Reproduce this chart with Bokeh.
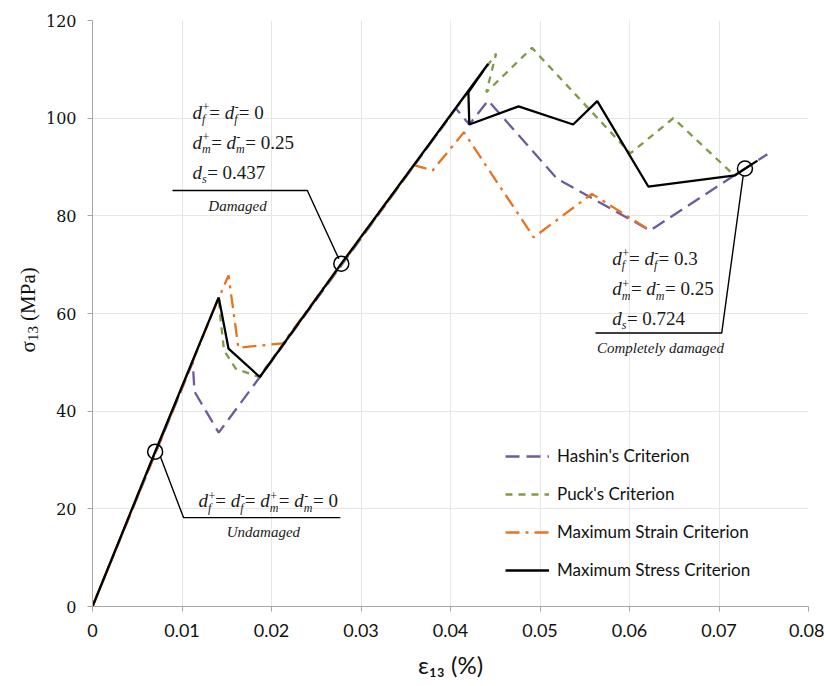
import math
from bokeh.plotting import figure
from bokeh.layouts import row
from bokeh.models import (Label, Legend, LegendItem, FixedTicker,
                          CustomJSTickFormatter, Range1d)
from bokeh.core.properties import value
from bokeh.embed import file_html
from bokeh.resources import INLINE

# ---------------- data (strain in %, stress in MPa) ----------------
hashin_x = [0, 0.0112, 0.0114, 0.0141, 0.0187, 0.0406, 0.0421, 0.0442, 0.0519, 0.0623, 0.0729, 0.0754]
hashin_y = [0, 50.0, 44.0, 35.6, 47.0, 102.0, 98.7, 103.6, 87.6, 77.0, 89.7, 92.6]

puck_x = [0, 0.0141, 0.0143, 0.0147, 0.0160, 0.0186, 0.0451, 0.0440, 0.0491, 0.0601, 0.0649, 0.0717, 0.0728]
puck_y = [0, 63.3, 58.9, 52.4, 48.7, 47.0, 113.2, 105.3, 114.4, 92.8, 100.0, 88.3, 89.5]

strain_x = [0, 0.0135, 0.0152, 0.0163, 0.0213, 0.0359, 0.0380, 0.0415, 0.0493, 0.0558, 0.0623]
strain_y = [0, 60.5, 67.8, 53.0, 53.9, 90.4, 89.3, 97.1, 75.6, 84.5, 77.0]

stress_x = [0, 0.0070, 0.0141, 0.0152, 0.0187, 0.0278, 0.0442, 0.0420, 0.0421, 0.0476, 0.0537, 0.0564, 0.0621, 0.0718, 0.0743]
stress_y = [0, 31.7, 63.3, 52.8, 47.0, 70.2, 111.1, 105.3, 98.7, 102.4, 98.7, 103.5, 86.0, 88.3, 91.3]

state_x = [0.0070, 0.0278, 0.0729]
state_y = [31.7, 70.2, 89.7]

series_names = ["Hashin's Criterion", "Puck's Criterion",
                "Maximum Strain Criterion", "Maximum Stress Criterion"]

x_ticks = [0, 0.01, 0.02, 0.03, 0.04, 0.05, 0.06, 0.07, 0.08]
y_ticks = [0, 20, 40, 60, 80, 100, 120]

H = 684
TOP, BOTTOM = 20, 78
FRAME_H = H - TOP - BOTTOM
LABEL_W = 42

# ---------------- y-axis title panel (pixel coordinates) ----------------
q = figure(width=LABEL_W, height=H, output_backend="svg", toolbar_location=None,
           x_range=Range1d(0, LABEL_W), y_range=Range1d(0, FRAME_H),
           min_border_left=0, min_border_right=0, min_border_top=TOP,
           min_border_bottom=BOTTOM)
q.axis.visible = False
q.grid.visible = False
q.outline_line_color = None

YT_FS = 21
mid_x = 27
start_y = 606 - 352          # bottom end of the title (page y 352), in panel px
w_sigma = 0.55 * YT_FS
w_sub = 15
w_space = 5
parts = [
    ("σ", start_y, mid_x, f"{YT_FS}px"),
    ("13", start_y + w_sigma, mid_x + 5, "15px"),
    ("(MPa)", start_y + w_sigma + w_sub + w_space, mid_x, f"{YT_FS}px"),
]
for txt, yy, xx, fs in parts:
    q.text(x=[xx], y=[yy], text=[txt], angle=math.pi / 2,
           text_font=value("Liberation Serif"), text_font_size=fs,
           text_color="#111111", text_align="left", text_baseline="middle")

# ---------------- main figure ----------------
p = figure(width=824 - LABEL_W, height=H, output_backend="svg", toolbar_location=None,
           x_range=Range1d(0, 0.08), y_range=Range1d(0, 120),
           min_border_left=92 - LABEL_W, min_border_right=16, min_border_top=TOP,
           min_border_bottom=BOTTOM)
p.outline_line_color = None
p.background_fill_color = "white"

p.xgrid.ticker = FixedTicker(ticks=x_ticks)
p.ygrid.ticker = FixedTicker(ticks=y_ticks)
p.xgrid.grid_line_color = "#e6e6e6"
p.ygrid.grid_line_color = "#e6e6e6"

xa = p.xaxis[0]
ya = p.yaxis[0]
xa.ticker = FixedTicker(ticks=x_ticks)
ya.ticker = FixedTicker(ticks=y_ticks)
xa.formatter = CustomJSTickFormatter(code="return String(Math.round(tick * 100) / 100);")
for ax in (xa, ya):
    ax.axis_line_color = "#a6a6a6"
    ax.major_tick_line_color = "#a6a6a6"
    ax.major_tick_out = 5
    ax.major_tick_in = 0
    ax.minor_tick_line_color = None
    ax.major_label_text_color = "#111111"
    ax.axis_label_text_color = "#111111"
    ax.axis_label_text_font_style = "normal"

xa.major_label_text_font = "Lato"
xa.major_label_text_font_size = "18px"
xa.major_label_standoff = 12
xa.axis_label = "ε₁₃ (%)"
xa.axis_label_text_font = "Lato"
xa.axis_label_text_font_size = "24px"
xa.axis_label_standoff = 10

ya.major_label_text_font = "DejaVu Serif"
ya.major_label_text_font_size = "16px"
ya.major_label_standoff = 11

# ---------------- series ----------------
r_h = p.line(hashin_x, hashin_y, line_color="#6f5b9c", line_width=2.3, line_dash="14 7")
r_p = p.line(puck_x, puck_y, line_color="#7f9b47", line_width=2.3, line_dash="7 6")
r_s = p.line(strain_x, strain_y, line_color="#e8731f", line_width=2.3, line_dash="14 6 3 6")
r_m = p.line(stress_x, stress_y, line_color="#000000", line_width=2.3)

p.scatter(state_x, state_y, marker="circle", size=15, fill_alpha=0,
          line_color="#000000", line_width=1.5)

# ---------------- leader lines ----------------
p.line([0.00894, 0.0240, 0.02752], [85.2, 85.2, 71.2], line_color="black", line_width=1.4)
p.line([0.0076, 0.01017, 0.0277], [30.6, 18.2, 18.2], line_color="black", line_width=1.4)
p.line([0.0727, 0.0703, 0.0562], [88.2, 56.0, 56.0], line_color="black", line_width=1.4)

# ---------------- rich annotation text ----------------
FONT = "Liberation Serif"
W_N = {'0': .5, '1': .5, '2': .5, '3': .5, '4': .5, '5': .5, '6': .5, '7': .5,
       '8': .5, '9': .5, '.': .25, '=': .564, ' ': .25, '+': .564, '-': .333}
W_I = {'d': .5, 'f': .278, 'm': .722, 's': .389}


def tw(s, table, size):
    return sum(table.get(c, .5) for c in s) * size


def lab(x, y, xo, yo, text, size, style="normal"):
    p.add_layout(Label(x=x, y=y, x_offset=xo, y_offset=yo, text=text,
                       text_font=FONT, text_font_size=f"{size}px",
                       text_font_style=style, text_color="#1a1a1a",
                       text_baseline="middle", text_align="left"))


def rich(x, y, items, size=19):
    small = 12
    off = 0.0
    for it in items:
        if it[0] == "t":
            lab(x, y, off, 0, it[1], size)
            off += tw(it[1], W_N, size)
        else:
            _, sub, sup = it
            lab(x, y, off, 0, "d", size, "italic")
            off += tw("d", W_I, size)
            wsub = tw(sub, W_I, small)
            lab(x, y, off, -7, sub, small, "italic")
            wsup = 0
            if sup:
                lab(x, y, off + 0.5, 5, sup, small)
                wsup = tw(sup, W_N, small)
            off += max(wsub, wsup) + 0.5


rich(0.01117, 101.2, [("d", "f", "+"), ("t", "= "), ("d", "f", "-"), ("t", "= 0")])
rich(0.01117, 95.1, [("d", "m", "+"), ("t", "= "), ("d", "m", "-"), ("t", "= 0.25")])
rich(0.01117, 88.9, [("d", "s", ""), ("t", "= 0.437")])

rich(0.05807, 71.3, [("d", "f", "+"), ("t", "= "), ("d", "f", "-"), ("t", "= 0.3")])
rich(0.05807, 65.1, [("d", "m", "+"), ("t", "= "), ("d", "m", "-"), ("t", "= 0.25")])
rich(0.05807, 59.0, [("d", "s", ""), ("t", "= 0.724")])

rich(0.01184, 21.7, [("d", "f", "+"), ("t", "= "), ("d", "f", "-"), ("t", "= "),
                     ("d", "m", "+"), ("t", "= "), ("d", "m", "-"), ("t", "= 0")])

for tx, ty, tt in [(0.0162, 82.1, "Damaged"), (0.0191, 15.2, "Undamaged"),
                   (0.06346, 52.84, "Completely damaged")]:
    p.add_layout(Label(x=tx, y=ty, text=tt, text_font=FONT, text_font_size="15px",
                       text_font_style="italic", text_color="#1a1a1a",
                       text_align="center", text_baseline="middle"))

# ---------------- legend ----------------
legend = Legend(items=[LegendItem(label=series_names[0], renderers=[r_h]),
                       LegendItem(label=series_names[1], renderers=[r_p]),
                       LegendItem(label=series_names[2], renderers=[r_s]),
                       LegendItem(label=series_names[3], renderers=[r_m])],
                location=(403, 16), border_line_alpha=0, background_fill_alpha=0,
                glyph_width=44, glyph_height=20, label_height=20, spacing=17,
                padding=10, margin=0, label_standoff=8,
                label_text_font="Lato", label_text_font_size="17px",
                label_text_color="#111111")
p.add_layout(legend)

layout = row(q, p, spacing=0)
open("out.html", "w").write(file_html(layout, INLINE))
